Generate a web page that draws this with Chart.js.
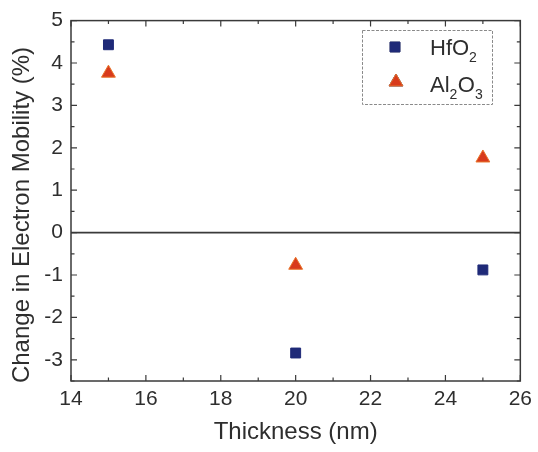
<!DOCTYPE html>
<html>
<head>
<meta charset="utf-8">
<script src="https://cdn.jsdelivr.net/npm/chart.js@4/dist/chart.umd.min.js"></script>
<style>
  html, body { margin: 0; padding: 0; background: #fff; }
  #wrap { width: 538px; height: 452px; }
</style>
</head>
<body>
<div id="wrap"><canvas id="myChart" width="538" height="452"></canvas></div>
<script>
// thickness (nm)
var thickness = [15, 20, 25];
// change in electron mobility (%)
var hfo2Values = [4.43, -2.84, -0.88];
var al2o3Values = [3.76, -0.77, 1.76];
var xTicks = [14, 16, 18, 20, 22, 24, 26];
var yTicks = [-3, -2, -1, 0, 1, 2, 3, 4, 5];
var yTitle = 'Change in Electron Mobility (%)';

function toPoints(xs, ys) {
	var pts = [];
	for (var i = 0; i < xs.length; i++) {
		pts.push({x: xs[i], y: ys[i]});
	}
	return pts;
}

var FONT = "'Liberation Sans', Arial, sans-serif";
var AXIS = "#3a3a3a";
var TEXT = "#2e2e2e";

// frame, inward ticks (major + minor), zero line and the y title
var framePlugin = {
	id: 'frame',
	afterDatasetsDraw: function(chart) {
		var ctx = chart.ctx;
		var a = chart.chartArea;
		var xs = chart.scales.x, ys = chart.scales.y;
		ctx.save();
		ctx.strokeStyle = AXIS;
		ctx.lineWidth = 1.5;
		ctx.strokeRect(a.left, a.top, a.right - a.left, a.bottom - a.top);

		ctx.lineWidth = 1.2;
		ctx.beginPath();
		for (var v = 14; v <= 26; v += 1) {
			var px = xs.getPixelForValue(v);
			var len = (v % 2 == 0) ? 6 : 3.5;
			ctx.moveTo(px, a.bottom); ctx.lineTo(px, a.bottom - len);
			ctx.moveTo(px, a.top); ctx.lineTo(px, a.top + len);
		}
		for (var w = -3.5; w <= 5; w += 0.5) {
			var py = ys.getPixelForValue(w);
			var len2 = (w % 1 == 0) ? 6 : 3.5;
			ctx.moveTo(a.left, py); ctx.lineTo(a.left + len2, py);
			ctx.moveTo(a.right, py); ctx.lineTo(a.right - len2, py);
		}
		ctx.stroke();

		var zy = ys.getPixelForValue(0);
		ctx.lineWidth = 1.6;
		ctx.beginPath();
		ctx.moveTo(a.left, zy); ctx.lineTo(a.right, zy);
		ctx.stroke();

		// y title sits a bit below the centre of the plot
		ctx.translate(22, 215);
		ctx.rotate(-Math.PI / 2);
		ctx.fillStyle = TEXT;
		ctx.font = '24px ' + FONT;
		ctx.textAlign = 'center';
		ctx.textBaseline = 'middle';
		ctx.fillText(yTitle, 0, 0);
		ctx.restore();
	}
};

// legend box with chemical subscripts
function drawFormula(ctx, parts, x, y) {
	for (var i = 0; i < parts.length; i++) {
		var sub = parts[i][1];
		ctx.font = (sub ? '14px ' : '22px ') + FONT;
		ctx.fillText(parts[i][0], x, sub ? y + 7 : y);
		x += ctx.measureText(parts[i][0]).width + (sub ? 0.5 : 0);
	}
}

var legendPlugin = {
	id: 'formulaLegend',
	afterDraw: function(chart) {
		var ctx = chart.ctx;
		ctx.save();
		ctx.strokeStyle = "#8a8a8a";
		ctx.lineWidth = 1;
		ctx.setLineDash([3, 1.5]);
		ctx.strokeRect(362.5, 30.5, 130, 74);
		ctx.setLineDash([]);

		var ds = chart.data.datasets;
		Chart.helpers.drawPoint(ctx, {pointStyle: 'rect', radius: 7, borderWidth: 1}, 395, 47);
		ctx.fillStyle = ds[0].backgroundColor;
		ctx.strokeStyle = ds[0].borderColor;
		ctx.fill(); ctx.stroke();
		Chart.helpers.drawPoint(ctx, {pointStyle: 'triangle', radius: 8, borderWidth: 1}, 396, 82);
		ctx.fillStyle = ds[1].backgroundColor;
		ctx.strokeStyle = ds[1].borderColor;
		ctx.fill(); ctx.stroke();

		ctx.fillStyle = TEXT;
		ctx.textBaseline = 'alphabetic';
		drawFormula(ctx, [["HfO", false], ["2", true]], 430, 55);
		drawFormula(ctx, [["Al", false], ["2", true], ["O", false], ["3", true]], 430, 92);
		ctx.restore();
	}
};

var Data = {
	datasets: [{
		label: "HfO2",
		data: toPoints(thickness, hfo2Values),
		pointStyle: 'rect',
		pointRadius: 7,
		backgroundColor: "#1f2a78",
		borderColor: "#1f2a78",
		borderWidth: 1
	}, {
		label: "Al2O3",
		data: toPoints(thickness, al2o3Values),
		pointStyle: 'triangle',
		pointRadius: 8,
		backgroundColor: "#d83a1c",
		borderColor: "#e8742a",
		borderWidth: 1
	}]
};

new Chart(document.getElementById("myChart"), {
	type: 'scatter',
	data: Data,
	plugins: [framePlugin, legendPlugin],
	options: {
		responsive: false,
		animation: false,
		layout: { padding: { top: 16, right: 12, left: 0, bottom: 0 } },
		plugins: {
			legend: { display: false },
			tooltip: { enabled: false }
		},
		scales: {
			x: {
				type: 'linear',
				min: 14, max: 26,
				afterBuildTicks: function(s) { s.ticks = xTicks.map(function(v) { return {value: v}; }); },
				afterFit: function(s) { s.height = 71; },
				grid: { display: false, drawTicks: false },
				border: { display: false },
				ticks: { color: TEXT, padding: 6, font: { family: FONT, size: 21 } },
				title: { display: true, text: 'Thickness (nm)', color: TEXT, padding: { top: 0, bottom: 5 }, font: { family: FONT, size: 24 } }
			},
			y: {
				type: 'linear',
				min: -3.5, max: 5,
				afterBuildTicks: function(s) { s.ticks = yTicks.map(function(v) { return {value: v}; }); },
				afterFit: function(s) { s.width = 71; },
				grid: { display: false, drawTicks: false },
				border: { display: false },
				ticks: { color: TEXT, padding: 8, font: { family: FONT, size: 21 } },
				title: { display: false }
			}
		}
	}
});
</script>
</body>
</html>
